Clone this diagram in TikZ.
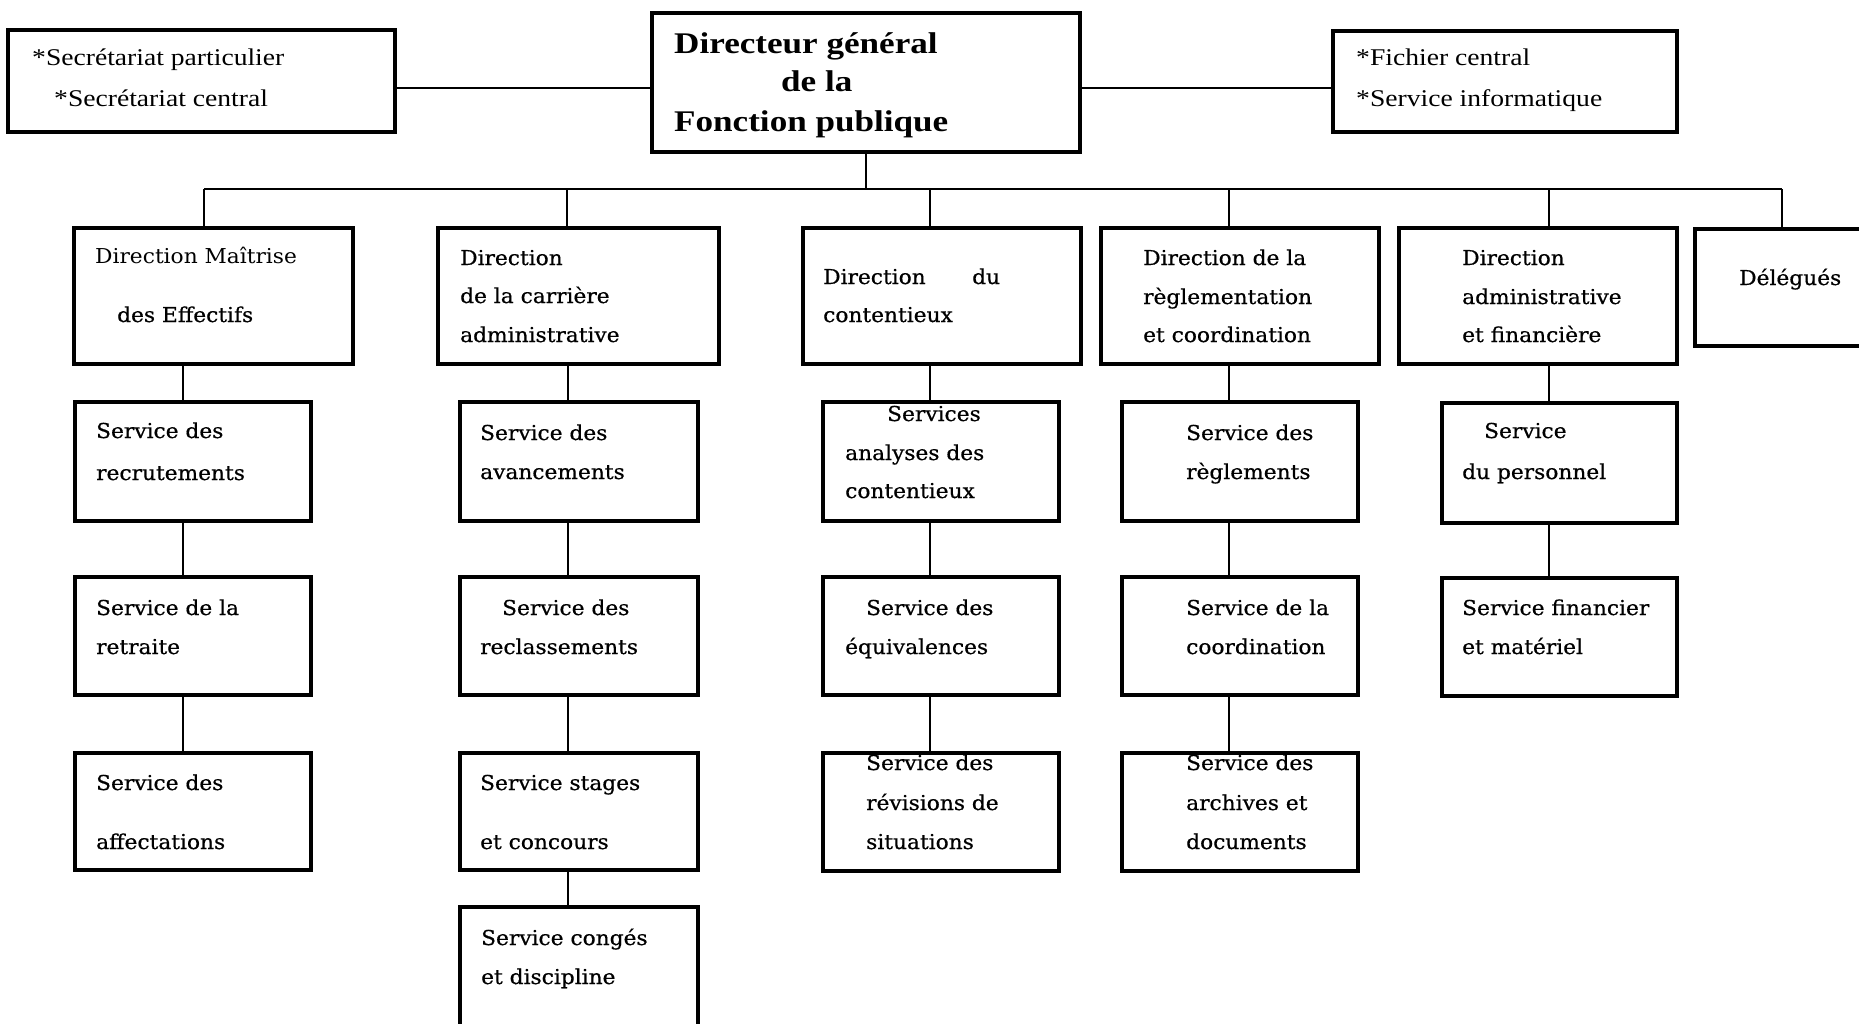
\documentclass[tikz,border=0pt]{standalone}
\usepackage{fontspec}
\newfontfamily\bodyfont[FakeStretch=1.06,FakeBold=0.6]{DejaVu Serif}
\newfontfamily\lightfont[FakeStretch=1.06]{DejaVu Serif}
\newfontfamily\dgfont[FakeStretch=1.17]{Liberation Serif}
\newfontfamily\secfont[FakeStretch=1.15]{Liberation Serif}
\newcommand{\orgbox}[5]{\node[box, anchor=north west, minimum width={(#4-#2)*1pt}, minimum height={(#5-#3)*1pt}] (#1) at (#2,#3) {};}
\begin{document}
\begin{tikzpicture}[x=1pt,y=-1pt,
  box/.style={draw, line width=3.2pt, inner sep=0pt, outer sep=0pt, fill=white},
  tx/.style={anchor=base west, inner sep=0pt, font=\bodyfont\fontsize{20.5}{24}\selectfont},
  txl/.style={anchor=base west, inner sep=0pt, font=\lightfont\fontsize{20.5}{24}\selectfont},
  sc/.style={anchor=base west, inner sep=0pt, font=\secfont\fontsize{24}{28}\selectfont},
  dgt/.style={anchor=base west, inner sep=0pt, font=\dgfont\bfseries\fontsize{30}{36}\selectfont},
  link/.style={line width=2.8pt}]
\useasboundingbox (0,0) rectangle (1859,1023);
\fill[white] (0,0) rectangle (1859,1023);
\clip (0,0) rectangle (1859,1023);

% ---- top row
\orgbox{sec}{8}{30}{395}{132}
\orgbox{dg}{652}{13}{1080}{152}
\orgbox{fic}{1333}{31}{1677}{132}

% ---- directions
\orgbox{d1}{74}{228}{353}{364}
\orgbox{d2}{438}{228}{719}{364}
\orgbox{d3}{803}{228}{1081}{364}
\orgbox{d4}{1101}{228}{1379}{364}
\orgbox{d5}{1399}{228}{1677}{364}
\orgbox{d6}{1695}{229}{1905}{346}

% ---- services
\orgbox{s11}{75}{402}{311}{521}
\orgbox{s12}{75}{577}{311}{695}
\orgbox{s13}{75}{753}{311}{870}
\orgbox{s21}{460}{402}{698}{521}
\orgbox{s22}{460}{577}{698}{695}
\orgbox{s23}{460}{753}{698}{870}
\orgbox{s24}{460}{907}{698}{1080}
\orgbox{s31}{823}{402}{1059}{521}
\orgbox{s32}{823}{577}{1059}{695}
\orgbox{s33}{823}{753}{1059}{871}
\orgbox{s41}{1122}{402}{1358}{521}
\orgbox{s42}{1122}{577}{1358}{695}
\orgbox{s43}{1122}{753}{1358}{871}
\orgbox{s51}{1442}{403}{1677}{523}
\orgbox{s52}{1442}{578}{1677}{696}

% ---- connectors
\coordinate (hy) at (0,88);
\coordinate (bus) at (0,189);
\coordinate (k1) at (204,189);
\coordinate (k2) at (567,189);
\coordinate (k3) at (930,189);
\coordinate (k4) at (1229,189);
\coordinate (k5) at (1549,189);
\coordinate (k6) at (1782,189);
\coordinate (v1) at (183,0);
\coordinate (v2) at (568,0);
\coordinate (v3) at (930,0);
\coordinate (v4) at (1229,0);
\coordinate (v5) at (1549,0);

\draw[link] (sec.east |- hy) -- (dg.west |- hy);
\draw[link] (dg.east |- hy) -- (fic.west |- hy);
\draw[link] (dg.south) -- (dg.south |- bus);
\draw[link] (k1) -- (k6);
\draw[link] (k1) -- (k1 |- d1.north);
\draw[link] (k2) -- (k2 |- d2.north);
\draw[link] (k3) -- (k3 |- d3.north);
\draw[link] (k4) -- (k4 |- d4.north);
\draw[link] (k5) -- (k5 |- d5.north);
\draw[link] (k6) -- (k6 |- d6.north);

\draw[link] (d1.south -| v1) -- (s11.north -| v1);
\draw[link] (s11.south -| v1) -- (s12.north -| v1);
\draw[link] (s12.south -| v1) -- (s13.north -| v1);
\draw[link] (d2.south -| v2) -- (s21.north -| v2);
\draw[link] (s21.south -| v2) -- (s22.north -| v2);
\draw[link] (s22.south -| v2) -- (s23.north -| v2);
\draw[link] (s23.south -| v2) -- (s24.north -| v2);
\draw[link] (d3.south -| v3) -- (s31.north -| v3);
\draw[link] (s31.south -| v3) -- (s32.north -| v3);
\draw[link] (s32.south -| v3) -- (s33.north -| v3);
\draw[link] (d4.south -| v4) -- (s41.north -| v4);
\draw[link] (s41.south -| v4) -- (s42.north -| v4);
\draw[link] (s42.south -| v4) -- (s43.north -| v4);
\draw[link] (d5.south -| v5) -- (s51.north -| v5);
\draw[link] (s51.south -| v5) -- (s52.north -| v5);

% ---- texts
\node[sc] (sec1) at (32,65) {*Secrétariat particulier};
\node[sc] (sec2) at (54,106) {*Secrétariat central};
\node[sc] (fic1) at (1356,65) {*Fichier central};
\node[sc] (fic2) at (1356,106) {*Service informatique};
\node[dgt] (dg1) at (674,53) {Directeur général};
\node[dgt] (dg2) at (781,91) {de la};
\node[dgt] (dg3) at (674,131) {Fonction publique};

\node[txl] (d1a) at (95,263) {Direction Maîtrise};
\node[tx] (d1b) at (117,322) {des Effectifs};
\node[tx] (s11a) at (96,438) {Service des};
\node[tx] (s11b) at (96,480) {recrutements};
\node[tx] (s12a) at (96,615) {Service de la};
\node[tx] (s12b) at (96,654) {retraite};
\node[tx] (s13a) at (96,790) {Service des};
\node[tx] (s13b) at (96,849) {affectations};

\node[tx] (d2a) at (460,265) {Direction};
\node[tx] (d2b) at (460,303) {de la carrière};
\node[tx] (d2c) at (460,342) {administrative};
\node[tx] (s21a) at (480,440) {Service des};
\node[tx] (s21b) at (480,479) {avancements};
\node[tx] (s22a) at (502,615) {Service des};
\node[tx] (s22b) at (480,654) {reclassements};
\node[tx] (s23a) at (480,790) {Service stages};
\node[tx] (s23b) at (480,849) {et concours};
\node[tx] (s24a) at (481,945) {Service congés};
\node[tx] (s24b) at (481,984) {et discipline};

\node[tx] (d3a) at (823,284) {Direction};
\node[tx] (d3b) at (972,284) {du};
\node[tx] (d3c) at (823,322) {contentieux};
\node[tx] (s31a) at (887,421) {Services};
\node[tx] (s31b) at (845,460) {analyses des};
\node[tx] (s31c) at (845,498) {contentieux};
\node[tx] (s32a) at (866,615) {Service des};
\node[tx] (s32b) at (845,654) {équivalences};
\node[tx] (s33a) at (866,770) {Service des};
\node[tx] (s33b) at (866,810) {révisions de};
\node[tx] (s33c) at (866,849) {situations};

\node[tx] (d4a) at (1143,265) {Direction de la};
\node[tx] (d4b) at (1143,304) {règlementation};
\node[tx] (d4c) at (1143,342) {et coordination};
\node[tx] (s41a) at (1186,440) {Service des};
\node[tx] (s41b) at (1186,479) {règlements};
\node[tx] (s42a) at (1186,615) {Service de la};
\node[tx] (s42b) at (1186,654) {coordination};
\node[tx] (s43a) at (1186,770) {Service des};
\node[tx] (s43b) at (1186,810) {archives et};
\node[tx] (s43c) at (1186,849) {documents};

\node[tx] (d5a) at (1462,265) {Direction};
\node[tx] (d5b) at (1462,304) {administrative};
\node[tx] (d5c) at (1462,342) {et financière};
\node[tx] (s51a) at (1484,438) {Service};
\node[tx] (s51b) at (1462,479) {du personnel};
\node[tx] (s52a) at (1462,615) {Service financier};
\node[tx] (s52b) at (1462,654) {et matériel};

\node[tx] (d6a) at (1739,285) {Délégués};
\end{tikzpicture}
\end{document}
